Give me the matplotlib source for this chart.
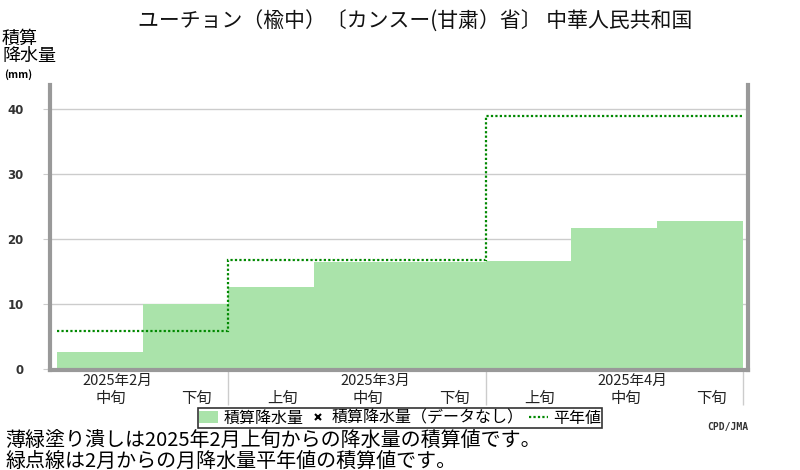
import matplotlib
matplotlib.use("Agg")
import matplotlib.pyplot as plt
from matplotlib.patches import Patch
from matplotlib.lines import Line2D

plt.rcParams['font.family'] = ['Noto Sans CJK JP', 'DejaVu Sans']

# dekads shown on the x axis
dekads = ['中旬', '下旬', '上旬', '中旬', '下旬', '上旬', '中旬', '下旬']
months = ['2025年2月', '2025年3月', '2025年4月']
month_mid = [0, 3, 6]          # index of the 中旬 slot of each month
month_edges = [0, 2, 5, 8]     # slot boundaries between months

# accumulated precipitation (mm)
accum = [2.6, 10.0, 12.6, 16.4, 16.4, 16.6, 21.7, 22.8]
# accumulated monthly normal (mm)
normal = [5.8, 16.7, 39.0]

bar_color = '#aae3aa'
grey = '#999999'

fig = plt.figure(figsize=(8, 4.7), dpi=100)
ax = fig.add_axes([50/800, 1-370/470, 698/800, 285/470])

ax.bar(range(len(accum)), accum, width=1, align='edge', color=bar_color, zorder=2)
ax.stairs(normal, month_edges, baseline=None, color='#008800', linestyle=(0, (1, 1)),
          linewidth=1.6, zorder=3)

ax.set_xlim(-0.08, 8.06)
ax.set_ylim(-0.2, 43.7)

# y axis
ax.set_yticks([0, 10, 20, 30, 40])
ax.set_yticklabels(['0', '10', '20', '30', '40'], fontsize=8.5, fontweight='bold',
                   family='DejaVu Sans', color='#333333')
ax.tick_params(axis='y', length=5, color='#cccccc', pad=14)
ax.grid(axis='y', color='#cccccc', linewidth=1, zorder=0)

# x axis: only month separators as long light ticks
ax.set_xticks(month_edges[1:])
ax.set_xticklabels([])
ax.tick_params(axis='x', length=25, color='#cccccc', width=1)

for s in ['left', 'bottom', 'right']:
    ax.spines[s].set_color(grey)
    ax.spines[s].set_linewidth(3)
ax.spines['top'].set_visible(False)

tr = ax.get_xaxis_transform()
for i, d in enumerate(dekads):
    ax.text(i + 0.63, -0.1, d, transform=tr, ha='center', va='center',
            fontsize=11, color='#222222')
for m, i in zip(months, month_mid):
    ax.text(i + 0.71, -0.04, m, transform=tr, ha='center', va='center',
            fontsize=10.5, color='#222222')

# title and axis label
fig.text(415/800, 1-22/470, 'ユーチョン（楡中）〔カンスー(甘粛）省〕 中華人民共和国',
         ha='center', va='center', fontsize=15, color='#111111')
fig.text(2/800, 1-30/470, '積算\n降水量', ha='left', va='top', fontsize=13,
         linespacing=0.95)
fig.text(4/800, 1-75/470, '(mm)', ha='left', va='center', fontsize=7.5, fontweight='bold')

# legend
handles = [Patch(facecolor=bar_color, edgecolor='none'),
           Line2D([], [], marker='x', linestyle='None', color='black', markersize=5,
                  markeredgewidth=1.5),
           Line2D([], [], color='#008800', linestyle=(0, (1, 1)), linewidth=1.6)]
labels = ['積算降水量', '積算降水量（データなし）', '平年値']
leg = fig.legend(handles, labels, loc='center', bbox_to_anchor=(400/800, 1-418/470),
                 ncol=3, fontsize=11.5, frameon=True, fancybox=False,
                 handlelength=1.2, handletextpad=0.3, columnspacing=0.3,
                 borderpad=0.1, borderaxespad=0)
leg.get_frame().set_edgecolor('black')
leg.get_frame().set_linewidth(1.2)

# footnotes
fig.text(5/800, 1-440/470, '薄緑塗り潰しは2025年2月上旬からの降水量の積算値です。',
         ha='left', va='center', fontsize=14.4)
fig.text(5/800, 1-461/470, '緑点線は2月からの月降水量平年値の積算値です。',
         ha='left', va='center', fontsize=14.4)
fig.text(748/800, 1-427/470, 'CPD/JMA', ha='right', va='center', fontsize=7,
         fontweight='bold', family='DejaVu Sans Mono', color='#333333')

fig.savefig('out.png', dpi=100, facecolor='white')
